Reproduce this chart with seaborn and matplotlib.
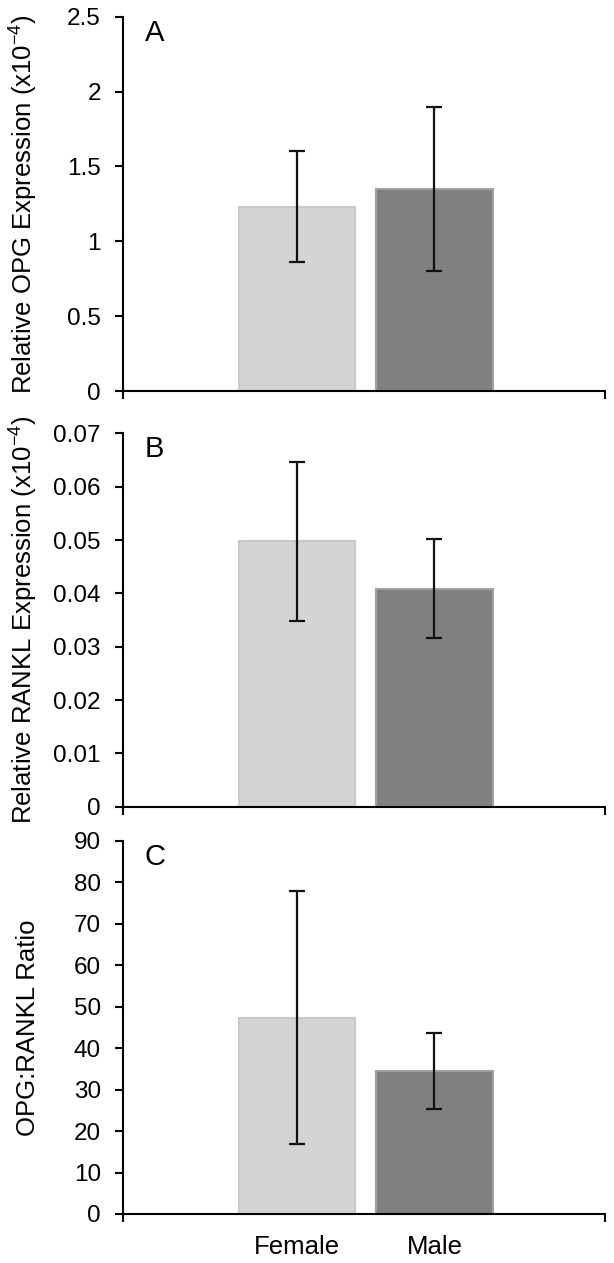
import pandas as pd
import matplotlib
matplotlib.use('Agg')
import matplotlib.pyplot as plt
import seaborn as sns
from matplotlib.ticker import FuncFormatter

# data
groups = ['Female', 'Male']
opg_mean = [1.23, 1.35]
opg_err = [0.37, 0.55]
rankl_mean = [0.0498, 0.0409]
rankl_err = [0.0149, 0.0092]
ratio_mean = [47.4, 34.5]
ratio_err = [30.6, 9.25]

panel_letters = ['A', 'B', 'C']
y_labels = ['Relative OPG Expression (x10$^{-4}$)',
            'Relative RANKL Expression (x10$^{-4}$)',
            'OPG:RANKL Ratio']
y_limits = [(0, 2.5), (0, 0.07), (0, 90)]
y_ticks = [[0, 0.5, 1, 1.5, 2, 2.5],
           [0, 0.01, 0.02, 0.03, 0.04, 0.05, 0.06, 0.07],
           [0, 10, 20, 30, 40, 50, 60, 70, 80, 90]]

bar_colors = ['#d4d4d4', '#808080']
edge_colors = ['#c8c8c8', '#a0a0a0']

sns.set_style('white')
plt.rcParams['font.family'] = ['Liberation Sans', 'DejaVu Sans']
plt.rcParams['mathtext.fontset'] = 'custom'
plt.rcParams['mathtext.rm'] = 'Liberation Sans'
plt.rcParams['mathtext.default'] = 'regular'
for key in ['text.color', 'axes.labelcolor', 'xtick.color', 'ytick.color']:
    plt.rcParams[key] = 'black'

fig = plt.figure(figsize=(6.14, 12.63), dpi=100)
# axes boxes (left, bottom, width, height) in figure fractions
boxes = [(0.2003, 0.6904, 0.785, 0.2964),
         (0.2003, 0.3613, 0.785, 0.2956),
         (0.2003, 0.0388, 0.785, 0.2954)]

means = [opg_mean, rankl_mean, ratio_mean]
errs = [opg_err, rankl_err, ratio_err]
xmin, xmax = -1.265, 2.24

for i in range(3):
    ax = fig.add_axes(boxes[i])
    df = pd.DataFrame({'group': groups, 'value': means[i]})
    sns.barplot(data=df, x='group', y='value', hue='group', palette=bar_colors,
                width=0.845, errorbar=None, legend=False, ax=ax)
    for patch, ec in zip(ax.patches, edge_colors):
        patch.set_edgecolor(ec)
        patch.set_linewidth(1.5)
    ax.errorbar([0, 1], means[i], yerr=errs[i], fmt='none', ecolor='#111111',
                elinewidth=1.6, capsize=6, capthick=1.6, zorder=5)

    ax.set_xlim(xmin, xmax)
    ax.set_ylim(*y_limits[i])
    ax.set_yticks(y_ticks[i])
    ax.yaxis.set_major_formatter(FuncFormatter(lambda v, p: '{:g}'.format(round(v, 4))))
    ax.tick_params(axis='y', direction='out', length=6, width=1.5, pad=10,
                   labelsize=17.5, left=True, color='black', labelcolor='black')

    ax.set_xticks([xmin, xmax])
    ax.set_xticklabels(['', ''])
    ax.tick_params(axis='x', which='major', direction='out', length=6, width=1.5,
                   bottom=True, color='black')
    ax.set_xticks([0, 1], minor=True)
    if i == 2:
        ax.set_xticklabels(groups, minor=True)
    else:
        ax.set_xticklabels(['', ''], minor=True)
    ax.tick_params(axis='x', which='minor', length=0, pad=15, labelsize=18.5,
                   labelcolor='black')

    ax.set_xlabel('')
    ax.set_ylabel(y_labels[i], fontsize=18.5, color='black')
    ax.yaxis.set_label_coords(-0.172, 0.5)

    for side in ['top', 'right']:
        ax.spines[side].set_visible(False)
    for side in ['left', 'bottom']:
        ax.spines[side].set_color('black')
        ax.spines[side].set_linewidth(1.5)

    ax.text(0.045, 0.995, panel_letters[i], transform=ax.transAxes,
            fontsize=21, va='top', ha='left', color='black')

fig.savefig('out.png', dpi=100)
